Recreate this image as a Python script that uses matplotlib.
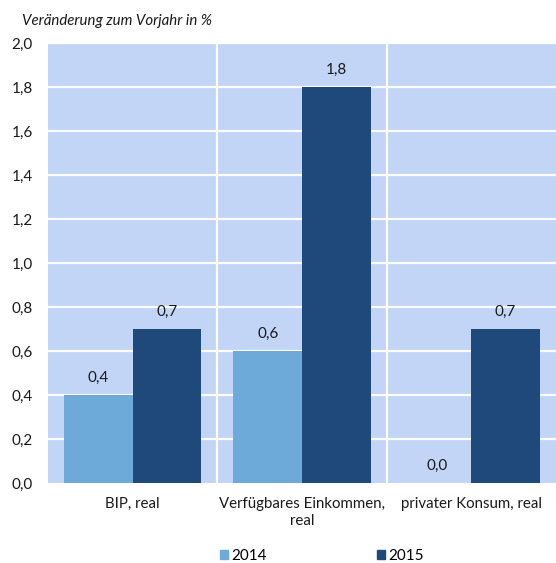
import matplotlib
matplotlib.use("Agg")
import matplotlib.pyplot as plt
import numpy as np
from matplotlib.patches import Patch

categories = ["BIP, real", "Verfügbares Einkommen,\nreal", "privater Konsum, real"]
years = ["2014", "2015"]
values_2014 = [0.4, 0.6, 0.0]
values_2015 = [0.7, 1.8, 0.7]
y_ticks = [0.0, 0.2, 0.4, 0.6, 0.8, 1.0, 1.2, 1.4, 1.6, 1.8, 2.0]

bg = "#c2d5f6"
c2014 = "#6eaad9"
c2015 = "#1f487b"
txt = "#1a1a1a"

plt.rcParams["font.family"] = ["Lato", "DejaVu Sans"]

fig = plt.figure(figsize=(5.56, 5.63), dpi=100)
ax = fig.add_axes([48 / 556, 80 / 563, 508 / 556, 440 / 563])
ax.set_facecolor(bg)

x = np.arange(len(categories))
w = 0.405
b1 = ax.bar(x - w / 2, values_2014, w, color=c2014, zorder=3)
b2 = ax.bar(x + w / 2, values_2015, w, color=c2015, zorder=3)

def fmt(v):
    return f"{v:.1f}".replace(".", ",")

for bars, vals in ((b1, values_2014), (b2, values_2015)):
    for r, v in zip(bars, vals):
        ax.annotate(fmt(v), (r.get_x() + r.get_width() / 2, v),
                    xytext=(0, 7), textcoords="offset points",
                    ha="center", va="bottom", fontsize=11, color=txt)

ax.set_xlim(-0.5, len(categories) - 0.5)
ax.set_ylim(0, 2.0)
ax.set_yticks(y_ticks)
ax.set_yticklabels([fmt(t) for t in y_ticks], fontsize=11)
ax.set_xticks(x)
ax.set_xticklabels(categories, fontsize=10.8, linespacing=1.25, ha="center",
                   multialignment="center")
ax.tick_params(axis="both", length=0, colors=txt)
ax.tick_params(axis="y", pad=11)
ax.tick_params(axis="x", pad=10)

for yv in y_ticks[1:]:
    ax.axhline(yv, color="white", lw=1.6, zorder=1)
for xv in [0.5, 1.5]:
    ax.axvline(xv, color="white", lw=1.6, zorder=1)

for s in ax.spines.values():
    s.set_visible(False)

fig.text(22 / 556, 1 - 21 / 563, "Veränderung zum Vorjahr in %",
         fontsize=10.8, style="italic", va="center", ha="left", color=txt)

handles = [Patch(color=c2014, label=years[0]), Patch(color=c2015, label=years[1])]
fig.legend(handles=handles, loc="center", bbox_to_anchor=(322 / 556, 1 - 556 / 563),
           ncol=2, frameon=False, fontsize=11, handlelength=0.55, handleheight=0.55,
           handletextpad=0.2, columnspacing=7.2, borderpad=0)

fig.savefig("out.png", dpi=100)
